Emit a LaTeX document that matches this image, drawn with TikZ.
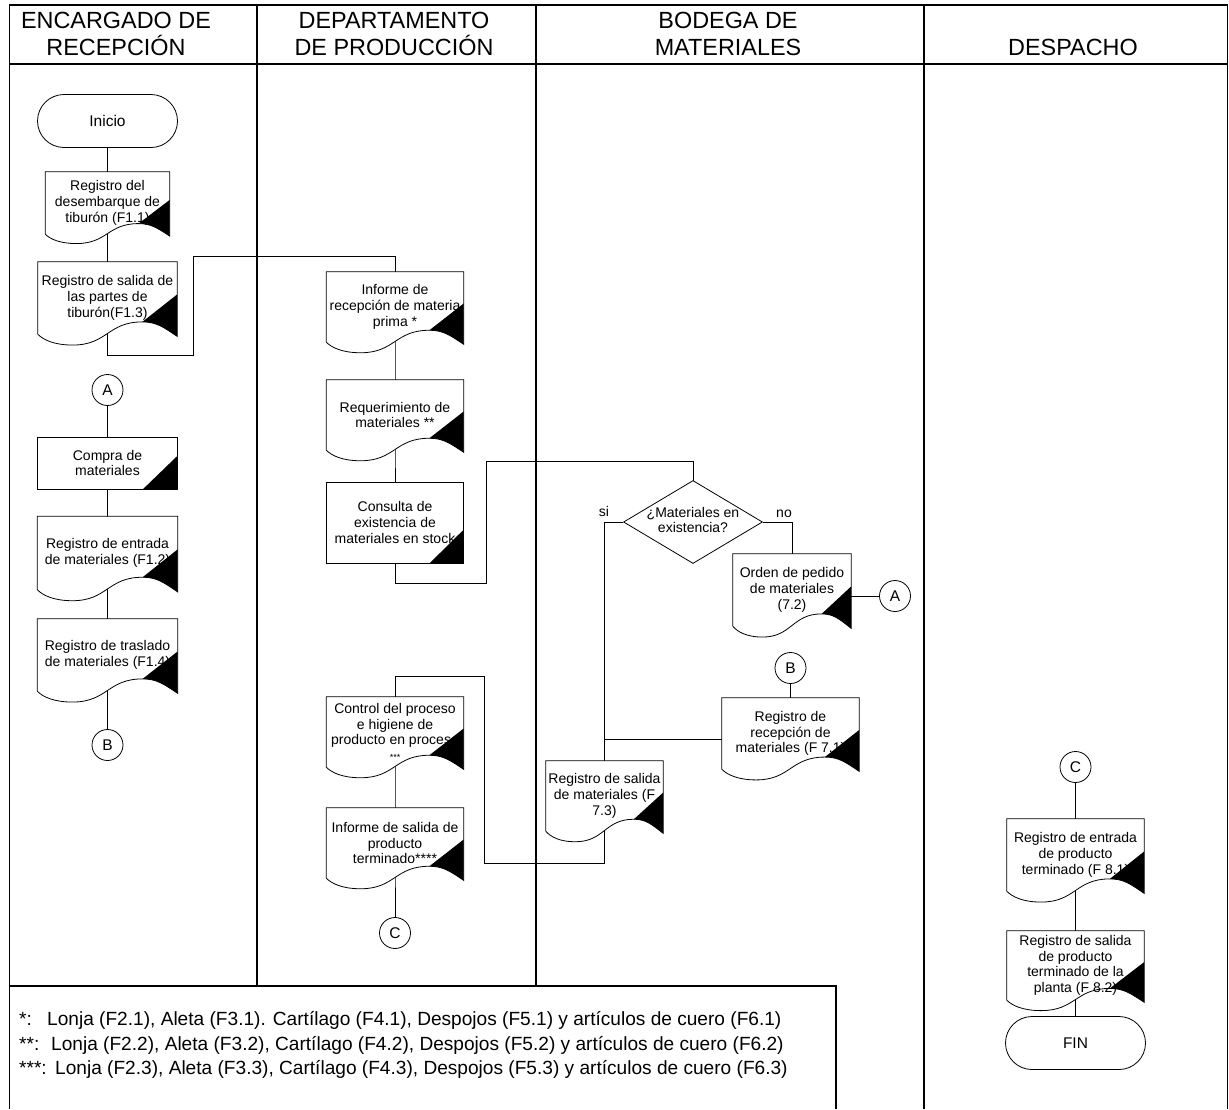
\documentclass[tikz,border=0pt]{standalone}
\usepackage{fontspec}
\setmainfont{Liberation Sans}
\usetikzlibrary{shapes.geometric,shapes.misc,calc}
\pgfdeclarelayer{bg}
\pgfdeclarelayer{shapes}
\pgfsetlayers{bg,shapes,main}

\newcommand\doctext{\fontsize{14pt}{15.7pt}\selectfont}
\newcommand\hdrtext{\fontsize{23.4pt}{27pt}\selectfont}
\newcommand\legtext{\fontsize{19.1pt}{24pt}\selectfont}
\newcommand\symtext{\fontsize{15.5pt}{17pt}\selectfont}

\tikzset{
  lane/.style={line width=1.2pt, draw=black},
  link/.style={line width=0.8pt, draw=black},
  docline/.style={line width=0.8pt, draw=black, fill=white},
  doc/.style 2 args={rectangle, minimum width=#1pt, minimum height=#2pt,
    inner sep=0pt, align=center, font=\doctext},
  proc/.style 2 args={rectangle, draw, fill=white, line width=0.8pt,
    minimum width=#1pt, minimum height=#2pt, inner sep=0pt, align=center, font=\doctext},
  term/.style={rounded rectangle, draw, fill=white, line width=0.8pt,
    minimum width=140pt, minimum height=53pt, inner sep=0pt, font=\symtext},
  conn/.style={circle, draw, fill=white, line width=0.8pt,
    minimum size=31pt, inner sep=0pt, font=\symtext},
  decision/.style={diamond, draw, fill=white, line width=0.8pt,
    minimum width=139pt, minimum height=83pt, inner sep=0pt, font=\doctext},
  hdr/.style={inner sep=0pt, anchor=base, font=\hdrtext},
  leg/.style={inner sep=0pt, anchor=base west, font=\legtext},
  tag/.style={inner sep=0pt, font=\doctext},
}

% document symbol: body node plus wavy lower edge and black corner mark
\newcommand\docshape[1]{%
  \begin{pgfonlayer}{shapes}
  \path[docline] let \p1=(#1.north west), \p2=(#1.south east),
      \n1={\x2-\x1}, \n2={\y1-\y2} in
    (\p1) -- (\x2,\y1) -- (\x2,{\y1-1.03*\n2})
    .. controls ({\x1+0.9*\n1},{\y1-0.9*\n2}) and ({\x1+0.85*\n1},{\y1-0.83*\n2})
    .. ({\x1+0.75*\n1},{\y1-0.83*\n2})
    .. controls ({\x1+0.5*\n1},{\y1-0.83*\n2}) and ({\x1+0.5*\n1},{\y1-1.15*\n2})
    .. ({\x1+0.25*\n1},{\y1-1.15*\n2})
    .. controls ({\x1+0.12*\n1},{\y1-1.15*\n2}) and ({\x1+0.04*\n1},{\y1-1.08*\n2})
    .. (\x1,\y2) -- cycle;
  \end{pgfonlayer}
  \fill let \p1=(#1.north west), \p2=(#1.south east),
      \n1={\x2-\x1}, \n2={\y1-\y2} in
    (\x2,{\y1-0.45*\n2}) -- ({\x1+0.75*\n1},{\y1-0.83*\n2})
    .. controls ({\x1+0.85*\n1},{\y1-0.83*\n2}) and ({\x1+0.9*\n1},{\y1-0.9*\n2})
    .. (\x2,{\y1-1.03*\n2}) -- cycle;
}
% black corner mark of a process box
\newcommand\proctri[1]{%
  \fill let \p1=(#1.north west), \p2=(#1.south east), \n1={\x2-\x1} in
    (\x2,{\y2+34}) -- (\p2) -- ({\x2-0.25*\n1},\y2) -- cycle;
}

\begin{document}
\begin{tikzpicture}[x=1pt,y=-1pt]
\begin{pgfonlayer}{bg}
\fill[white] (0,0) rectangle (1229,1109);
\end{pgfonlayer}
\useasboundingbox (0,0) rectangle (1229,1109);

% swimlane frame
\begin{pgfonlayer}{bg}
\draw[lane] (9.5,1109) -- (9.5,5) -- (1227.5,5) -- (1227.5,1109);
\draw[lane] (9.5,64) -- (1227.5,64);
\draw[lane] (257,5) -- (257,986);
\draw[lane] (536,5) -- (536,986);
\draw[lane] (924,5) -- (924,1109);
\draw[lane] (9.5,986) -- (836,986) -- (836,1109);
\end{pgfonlayer}

% lane titles
\node[hdr] (h1a) at (116,28) {ENCARGADO DE};
\node[hdr] (h1b) at (116,55) {RECEPCIÓN};
\node[hdr] (h2a) at (394,28) {DEPARTAMENTO};
\node[hdr] (h2b) at (394,55) {DE PRODUCCIÓN};
\node[hdr] (h3a) at (728,28) {BODEGA DE};
\node[hdr] (h3b) at (728,55) {MATERIALES};
\node[hdr] (h4)  at (1073,55) {DESPACHO};

% reception lane
\node[term] (inicio) at (107.5,121) {Inicio};
\node[doc={124}{62}] (f11) at (107.5,203) {Registro del\\desembarque de\\tiburón (F1.1)};
\node[doc={139}{72}] (f13) at (107.5,298) {Registro de salida de\\las partes de\\tiburón(F1.3)};
\node[conn] (a1) at (107.5,390) {A};
\node[proc={140}{52}] (compra) at (107.5,463) {Compra de\\materiales};
\node[doc={140}{73}] (f12) at (107.5,553) {Registro de entrada\\de materiales (F1.2)};
\node[doc={140}{72}] (f14) at (107.5,655) {Registro de traslado\\de materiales (F1.4)};
\node[conn] (b1) at (107.5,745) {B};

% production lane
\node[doc={137}{70}] (irm) at (395,307) {Informe de\\recepción de materia\\prima *};
\node[doc={137}{70}] (req) at (395,415) {Requerimiento de\\materiales **};
\node[proc={137}{81}] (cons) at (395,522.5) {Consulta de\\existencia de\\materiales en stock};
\node[doc={137}{70}] (ctl) at (395,732) {Control del proceso\\e higiene de\\producto en proceso\\{\fontsize{9pt}{10pt}\selectfont ***}};
\node[doc={137}{70}] (isp) at (395,843) {Informe de salida de\\producto\\terminado****};
\node[conn] (c1) at (395,933) {C};

% warehouse lane
\node[decision] (dia) at (693,522) {\makebox[0pt]{\begin{tabular}{@{}c@{}}¿Materiales en\\existencia?\end{tabular}}};
\node[tag] (si) at (604,511) {si};
\node[tag] (no) at (784,514) {no};
\node[doc={118}{72}] (ord) at (792,590) {Orden de pedido\\de materiales\\(7.2)};
\node[conn] (a2) at (895,596) {A};
\node[conn] (b2) at (790.5,668) {B};
\node[doc={137}{71}] (rrm) at (790.5,733.5) {Registro de\\recepción de\\materiales (F 7.1)};
\node[doc={117}{70}] (rsm) at (604.5,796) {Registro de salida\\de materiales (F\\7.3)};

% dispatch lane
\node[conn] (c2) at (1075.5,767) {C};
\node[doc={137}{72}] (rep) at (1075.5,855) {Registro de entrada\\de producto\\terminado (F 8.1)};
\node[doc={137}{69}] (rsp) at (1075.5,965.5) {Registro de salida\\de producto\\terminado de la\\planta (F 8.2)};
\node[term] (fin) at (1075.5,1043) {FIN};

% document outlines and corner marks
\foreach \d in {f11,f13,f12,f14,irm,req,ctl,isp,ord,rrm,rsm,rep,rsp} {\docshape{\d}}
\proctri{compra}
\proctri{cons}

% connectors
\coordinate (k1) at (193,355);
\coordinate (k2) at (193,256);
\coordinate (k3) at (486,583);
\coordinate (k4) at (486,461);
\coordinate (k5) at (484,863);
\coordinate (k6) at (484,676);
\begin{pgfonlayer}{bg}
\draw[link] (inicio.center) -- (f11.center) -- (f13.center);
\draw[link] (f13.center) |- (k1) -- (k2) -| (irm.center);
\draw[link] (a1.center) -- (compra.center) -- (f12.center) -- (f14.center) -- (b1.center);
\draw[link] (irm.center) -- (req.center) -- (cons.center);
\draw[link] (cons.center) |- (k3) -- (k4) -| (dia.center);
\draw[link] (dia.west) -| (rsm.center);
\draw[link] (dia.east) -| (ord.center);
\draw[link] (a2.center) -- (a2 -| ord);
\draw[link] (b2.center) -- (rrm.center);
\draw[link] (rrm.185) -- (rrm.185 -| rsm);
\draw[link] (rsm.center) |- (k5) -- (k6) -| (ctl.center);
\draw[link] (ctl.center) -- (isp.center) -- (c1.center);
\draw[link] (c2.center) -- (rep.center) -- (rsp.center) -- (fin.center);
\end{pgfonlayer}

% notes
\node[leg] (n1k) at (19,1025) {*:};
\node[leg] (n1t) at (47,1025) {Lonja (F2.1), Aleta (F3.1). Cartílago (F4.1), Despojos (F5.1) y artículos de cuero (F6.1)};
\node[leg] (n2k) at (19,1050) {**:};
\node[leg] (n2t) at (51,1050) {Lonja (F2.2), Aleta (F3.2), Cartílago (F4.2), Despojos (F5.2) y artículos de cuero (F6.2)};
\node[leg] (n3k) at (19,1074) {***:};
\node[leg] (n3t) at (55,1074) {Lonja (F2.3), Aleta (F3.3), Cartílago (F4.3), Despojos (F5.3) y artículos de cuero (F6.3)};
\end{tikzpicture}
\end{document}
